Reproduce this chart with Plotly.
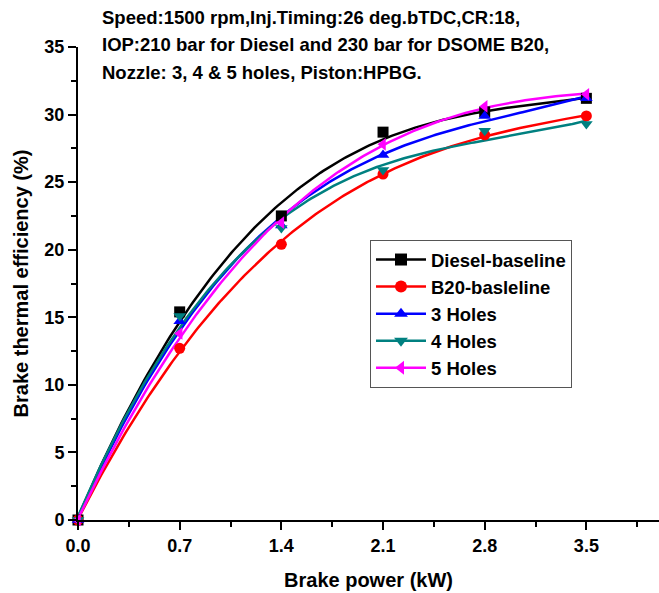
import numpy as np
import plotly.graph_objects as go

brake_power = [0.0, 0.7, 1.4, 2.1, 2.8, 3.5]
series_names = ["Diesel-baseline", "B20-basleline", "3 Holes", "4 Holes", "5 Holes"]
diesel = [0.0, 15.4, 22.5, 28.7, 30.2, 31.2]
b20 = [0.0, 12.7, 20.4, 25.6, 28.5, 29.9]
holes3 = [0.0, 14.7, 21.8, 27.0, 29.9, 31.2]
holes4 = [0.0, 15.1, 21.6, 25.9, 28.8, 29.3]
holes5 = [0.0, 13.8, 22.0, 27.8, 30.6, 31.5]
values = [diesel, b20, holes3, holes4, holes5]
colors = ["#000000", "#FF0000", "#0000FF", "#008080", "#FF00FF"]
symbols = ["square", "circle", "triangle-up", "triangle-down", "triangle-left"]

title_lines = [
    "Speed:1500 rpm,Inj.Timing:26 deg.bTDC,CR:18,",
    "IOP:210 bar for Diesel and 230 bar for DSOME B20,",
    "Nozzle: 3, 4 & 5 holes, Piston:HPBG.",
]

FONT = "Liberation Sans, Arial, sans-serif"
fig = go.Figure()
xs = np.array(brake_power)
xfit = np.linspace(0, 3.5, 200)
for name, ys, c, s in zip(series_names, values, colors, symbols):
    coef = np.polyfit(xs, np.array(ys), 3)
    yfit = np.polyval(coef, xfit)
    fig.add_trace(go.Scatter(x=xfit, y=yfit, mode="lines", line=dict(color=c, width=2.5),
                             showlegend=False, hoverinfo="skip", cliponaxis=False))
for name, ys, c, s in zip(series_names, values, colors, symbols):
    fig.add_trace(go.Scatter(x=brake_power, y=ys, mode="markers",
                             marker=dict(symbol=s, color=c, size=11), showlegend=False,
                             cliponaxis=False))
for name, ys, c, s in zip(series_names, values, colors, symbols):
    fig.add_trace(go.Scatter(x=[None], y=[None], mode="lines+markers", name=name,
                             line=dict(color=c, width=2.5),
                             marker=dict(symbol=s, color=c, size=12)))

for i, t in enumerate(title_lines):
    fig.add_annotation(text="<b>%s</b>" % t, xref="paper", yref="paper",
                       x=(100 - 78) / 581, y=1 + (47 - (18 + 27 * i)) / 473,
                       xanchor="left", yanchor="middle", showarrow=False,
                       font=dict(family=FONT, size=18.5, color="black"))

fig.update_layout(
    width=659, height=593,
    margin=dict(l=78, r=0, t=47, b=73),
    paper_bgcolor="white", plot_bgcolor="white",
    font=dict(family=FONT, color="black"),
    legend=dict(x=(370 - 78) / 581, y=(520 - 240) / 473, xanchor="left", yanchor="top",
                bordercolor="#555555", borderwidth=1, bgcolor="white",
                font=dict(family=FONT, size=18.5, color="black", weight="bold"),
                tracegroupgap=0, itemwidth=50),
)
fig.update_xaxes(
    range=[0, 4.0], tickvals=brake_power, ticktext=["%.1f" % v for v in brake_power],
    showgrid=False, zeroline=False, showline=True, linecolor="black", linewidth=2,
    ticks="outside", ticklen=8, tickwidth=2, tickcolor="black",
    minor=dict(tickvals=[0.35, 1.05, 1.75, 2.45, 3.15, 3.85], ticks="outside", ticklen=5, tickwidth=2, tickcolor="black"),
    tickfont=dict(family=FONT, size=18, color="black", weight="bold"),
    title=dict(text="<b>Brake power (kW)</b>", font=dict(family=FONT, size=20, color="black"), standoff=18),
)
fig.update_yaxes(
    range=[0, 35], tickvals=[0, 5, 10, 15, 20, 25, 30, 35],
    showgrid=False, zeroline=False, showline=True, linecolor="black", linewidth=2,
    ticks="outside", ticklen=8, tickwidth=2, tickcolor="black",
    minor=dict(tickvals=[2.5, 7.5, 12.5, 17.5, 22.5, 27.5, 32.5], ticks="outside", ticklen=5, tickwidth=2, tickcolor="black"),
    tickfont=dict(family=FONT, size=18, color="black", weight="bold"),
    title=dict(text="<b>Brake thermal efficiency (%)</b>", font=dict(family=FONT, size=20, color="black"), standoff=10),
)
fig.write_html("out.html")
